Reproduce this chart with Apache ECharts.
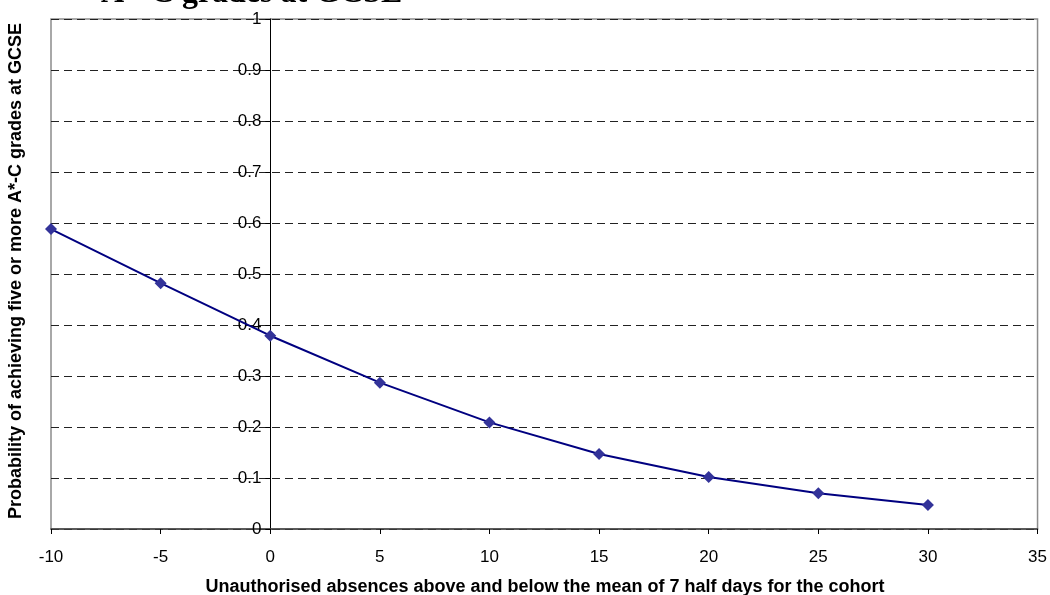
<!DOCTYPE html>
<html>
<head>
<meta charset="utf-8">
<script src="https://cdn.jsdelivr.net/npm/echarts@6/dist/echarts.min.js"></script>
<style>html,body{margin:0;padding:0;background:#fff;}#c{width:1050px;height:595px;}</style>
</head>
<body>
<div id="c"></div>
<script>
var absences = [-10, -5, 0, 5, 10, 15, 20, 25, 30];
var probability = [0.588, 0.482, 0.379, 0.287, 0.209, 0.147, 0.102, 0.070, 0.047];
var titleText = 'A*-C grades at GCSE';
var xTitle = 'Unauthorised absences above and below the mean of 7 half days for the cohort';
var yTitle = 'Probability of achieving five or more A*-C grades at GCSE';

var gridLeft = 51, gridRight = 12, W = 1050;
var xMin = -10, xMax = 35;
var plotW = W - gridLeft - gridRight;
var zeroOffset = -(0 - xMin) / (xMax - xMin) * plotW;

var chart = echarts.init(document.getElementById('c'));
var pts = absences.map(function (x, i) { return [x, probability[i]]; });
chart.setOption({
  animation: false,
  backgroundColor: '#fff',
  textStyle: { fontFamily: 'Liberation Sans, Arial, sans-serif' },
  grid: { left: gridLeft, right: gridRight, top: 19, bottom: 66, show: true, borderColor: '#8c8c8c', borderWidth: 1.5, backgroundColor: 'transparent' },
  graphic: [
    { type: 'text', left: 101, top: -22, silent: true, style: { text: titleText, font: 'bold 32px "Liberation Serif", "Times New Roman", serif', fill: '#000' } },
    { type: 'text', x: 545, y: 587, silent: true, style: { text: xTitle, font: 'bold 18px "Liberation Sans", Arial, sans-serif', fill: '#000', align: 'center', verticalAlign: 'middle' } },
    { type: 'text', x: 16, y: 271, rotation: Math.PI / 2, silent: true, style: { text: yTitle, font: 'bold 18px "Liberation Sans", Arial, sans-serif', fill: '#000', align: 'center', verticalAlign: 'middle' } }
  ],
  xAxis: {
    type: 'value', min: xMin, max: xMax, interval: 5,
    axisLine: { onZero: false, lineStyle: { color: '#404040', width: 1.5 } },
    axisTick: { show: true, length: 5, lineStyle: { color: '#000' } },
    axisLabel: { color: '#000', fontSize: 17, margin: 20 },
    splitLine: { show: false }
  },
  yAxis: {
    type: 'value', min: 0, max: 1, interval: 0.1, position: 'left', offset: zeroOffset,
    axisLine: { show: true, onZero: false, lineStyle: { color: '#000', width: 1 } },
    axisTick: { show: true, length: 5, lineStyle: { color: '#000' } },
    axisLabel: { color: '#000', fontSize: 17, margin: 9 },
    splitLine: { show: true, lineStyle: { color: '#222', width: 1, type: [8, 5] } }
  },
  series: [{
    type: 'line', data: pts, symbol: 'diamond', symbolSize: 12,
    lineStyle: { color: '#000080', width: 2 },
    itemStyle: { color: '#333399', borderWidth: 0 },
    z: 5
  }]
});
</script>
</body>
</html>
